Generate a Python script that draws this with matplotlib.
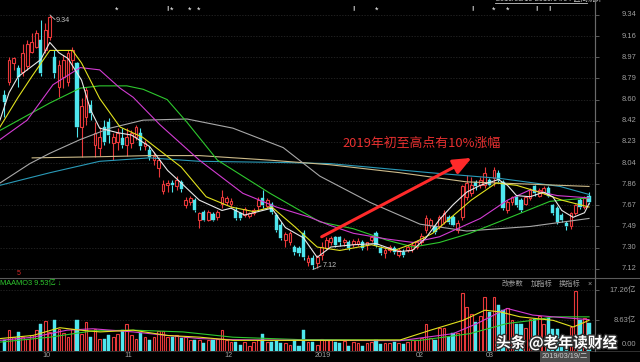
import numpy as np
import matplotlib
matplotlib.use('Agg')
import matplotlib.pyplot as plt
from matplotlib import patheffects as pe
from matplotlib.lines import Line2D
from matplotlib.transforms import blended_transform_factory

plt.rcParams['font.family'] = ['Liberation Sans', 'Noto Sans CJK SC', 'DejaVu Sans']

# ---------------- data ----------------
opens = [8.64, 8.75, 8.92, 8.88, 8.84, 8.89, 9.02, 9.06, 9.12, 9.03,
         9.15, 8.97, 8.71, 8.80, 8.75, 8.95, 8.92, 8.36, 8.45, 8.55,
         8.20, 8.18, 8.36, 8.40, 8.22, 8.23, 8.26, 8.20, 8.22, 8.27,
         8.31, 8.19, 8.16, 8.07, 8.00, 7.80, 7.85, 7.87, 7.84, 7.88,
         7.68, 7.70, 7.72, 7.55, 7.62, 7.55, 7.60, 7.57, 7.69, 7.70,
         7.69, 7.63, 7.61, 7.59, 7.58, 7.61, 7.67, 7.74, 7.67, 7.69,
         7.59, 7.50, 7.37, 7.35, 7.31, 7.30, 7.43, 7.18, 7.21, 7.17,
         7.24, 7.30, 7.35, 7.40, 7.40, 7.35, 7.35, 7.34, 7.34, 7.35,
         7.33, 7.37, 7.43, 7.30, 7.26, 7.28, 7.30, 7.24, 7.27, 7.28,
         7.29, 7.31, 7.35, 7.46, 7.50, 7.49, 7.49, 7.53, 7.57, 7.57,
         7.46, 7.57, 7.75, 7.78, 7.88, 7.85, 7.85, 7.90, 7.91, 7.96,
         7.88, 7.63, 7.70, 7.75, 7.72, 7.69, 7.74, 7.84, 7.76, 7.79,
         7.83, 7.68, 7.65, 7.59, 7.52, 7.49, 7.61, 7.72, 7.66, 7.76]
closes = [8.58, 8.95, 8.96, 8.80, 9.01, 9.09, 9.10, 9.18, 8.83, 9.21,
          9.32, 8.83, 8.90, 8.95, 9.01, 9.03, 8.36, 8.54, 8.68, 8.48,
          8.31, 8.27, 8.23, 8.29, 8.27, 8.31, 8.20, 8.27, 8.31, 8.36,
          8.19, 8.22, 8.10, 8.11, 8.07, 7.86, 7.87, 7.85, 7.90, 7.82,
          7.72, 7.74, 7.63, 7.61, 7.55, 7.62, 7.55, 7.62, 7.75, 7.74,
          7.71, 7.56, 7.56, 7.64, 7.61, 7.63, 7.72, 7.68, 7.72, 7.62,
          7.46, 7.39, 7.42, 7.43, 7.27, 7.26, 7.22, 7.21, 7.15, 7.22,
          7.31, 7.37, 7.39, 7.33, 7.35, 7.37, 7.30, 7.36, 7.36, 7.30,
          7.35, 7.40, 7.33, 7.26, 7.28, 7.31, 7.27, 7.28, 7.24, 7.31,
          7.33, 7.35, 7.41, 7.56, 7.55, 7.44, 7.57, 7.61, 7.53, 7.50,
          7.52, 7.84, 7.87, 7.85, 7.84, 7.90, 7.96, 7.85, 7.98, 7.90,
          7.65, 7.70, 7.75, 7.68, 7.63, 7.75, 7.81, 7.78, 7.81, 7.83,
          7.76, 7.61, 7.53, 7.55, 7.49, 7.61, 7.68, 7.66, 7.74, 7.70]
highs = [8.68, 8.97, 8.97, 8.90, 9.09, 9.12, 9.18, 9.21, 9.30, 9.27,
         9.34, 9.03, 8.95, 8.99, 9.03, 9.06, 8.93, 8.61, 8.71, 8.60,
         8.40, 8.36, 8.42, 8.44, 8.31, 8.35, 8.35, 8.35, 8.33, 8.38,
         8.35, 8.25, 8.19, 8.14, 8.10, 7.90, 7.90, 7.90, 7.93, 7.90,
         7.75, 7.76, 7.74, 7.62, 7.63, 7.63, 7.62, 7.63, 7.81, 7.76,
         7.74, 7.66, 7.62, 7.66, 7.62, 7.65, 7.75, 7.81, 7.74, 7.70,
         7.61, 7.53, 7.44, 7.45, 7.33, 7.32, 7.46, 7.24, 7.24, 7.24,
         7.35, 7.40, 7.41, 7.41, 7.41, 7.39, 7.37, 7.38, 7.39, 7.37,
         7.35, 7.41, 7.45, 7.32, 7.31, 7.33, 7.32, 7.30, 7.29, 7.33,
         7.35, 7.37, 7.43, 7.59, 7.56, 7.50, 7.59, 7.63, 7.59, 7.59,
         7.55, 7.85, 7.94, 7.92, 7.90, 7.92, 8.01, 7.91, 8.01, 7.98,
         7.90, 7.72, 7.76, 7.76, 7.74, 7.76, 7.83, 7.85, 7.83, 7.84,
         7.84, 7.69, 7.67, 7.61, 7.54, 7.62, 7.69, 7.74, 7.76, 7.79]
lows = [8.45, 8.73, 8.86, 8.71, 8.81, 8.86, 9.01, 9.05, 8.81, 9.01,
        9.12, 8.79, 8.62, 8.70, 8.72, 8.86, 8.27, 8.10, 8.38, 8.42,
        8.10, 8.11, 8.20, 8.22, 8.07, 8.16, 8.18, 8.11, 8.18, 8.25,
        8.16, 8.16, 8.07, 8.03, 7.92, 7.77, 7.79, 7.79, 7.81, 7.79,
        7.65, 7.68, 7.62, 7.48, 7.54, 7.54, 7.54, 7.55, 7.65, 7.68,
        7.66, 7.55, 7.55, 7.57, 7.56, 7.59, 7.63, 7.65, 7.65, 7.60,
        7.44, 7.37, 7.31, 7.33, 7.24, 7.23, 7.20, 7.14, 7.12, 7.13,
        7.20, 7.28, 7.33, 7.31, 7.32, 7.32, 7.28, 7.31, 7.32, 7.28,
        7.28, 7.35, 7.31, 7.24, 7.21, 7.27, 7.25, 7.22, 7.22, 7.27,
        7.27, 7.29, 7.33, 7.43, 7.48, 7.42, 7.47, 7.51, 7.51, 7.49,
        7.43, 7.55, 7.72, 7.76, 7.81, 7.83, 7.83, 7.84, 7.84, 7.88,
        7.63, 7.61, 7.68, 7.66, 7.62, 7.68, 7.72, 7.76, 7.75, 7.77,
        7.75, 7.59, 7.51, 7.53, 7.46, 7.47, 7.59, 7.64, 7.64, 7.69]
volumes = [2.9, 5.9, 3.8, 5.3, 3.8, 3.4, 4.3, 5.8, 7.7, 8.3,
           5.3, 8.6, 6.2, 5.0, 3.8, 6.2, 8.8, 4.8, 8.1, 3.8,
           6.2, 3.4, 3.4, 4.3, 3.8, 4.8, 5.8, 7.5, 4.3, 3.4,
           5.0, 3.8, 3.1, 3.8, 5.6, 5.6, 3.8, 3.8, 4.3, 3.6,
           3.8, 2.9, 3.1, 3.1, 2.1, 2.9, 2.9, 3.4, 5.9, 2.9,
           2.4, 2.4, 1.7, 2.4, 1.4, 2.4, 2.9, 4.8, 2.4, 2.4,
           2.7, 2.1, 2.1, 1.7, 2.9, 1.4, 5.8, 2.4, 2.4, 1.7,
           3.4, 2.9, 2.9, 2.4, 2.2, 2.6, 1.4, 2.4, 2.2, 1.4,
           2.0, 2.4, 3.1, 1.9, 2.0, 2.0, 2.4, 2.0, 1.9, 2.4,
           3.1, 3.0, 3.5, 7.5, 3.7, 3.0, 6.3, 6.3, 3.8, 4.9,
           4.9, 16.4, 12.4, 10.4, 8.1, 9.8, 15.2, 11.0, 15.3, 12.9,
           11.5, 12.0, 8.6, 7.7, 7.7, 6.5, 8.9, 8.9, 9.8, 7.5,
           9.4, 6.0, 6.0, 3.8, 3.8, 6.6, 17.1, 8.6, 9.4, 7.9]

# moving-average lines (day index, value)
ma5_day = [-1, 1, 3, 8, 10, 12, 14, 17, 19, 21, 25, 28, 32, 36, 39, 43, 48, 50, 53, 57, 59, 62, 66, 69,
           72, 77, 82, 87, 90, 93, 96, 99, 102, 105, 109, 111, 113, 116, 119, 121, 123, 125.5, 128, 129]
ma5_val = [8.42, 8.66, 8.80, 8.95, 9.10, 9.01, 8.96, 8.77, 8.51, 8.35, 8.31, 8.29, 8.19, 7.98, 7.87, 7.72,
           7.63, 7.65, 7.59, 7.63, 7.65, 7.48, 7.39, 7.22, 7.31, 7.33, 7.34, 7.27, 7.28, 7.39, 7.55, 7.68,
           7.79, 7.85, 7.90, 7.85, 7.76, 7.75, 7.79, 7.75, 7.63, 7.57, 7.61, 7.69]
ma10_day = [-1, 3, 6, 10, 15, 17, 21, 25.5, 30.5, 39, 44.5, 50, 55, 59, 64, 69, 74, 81, 86, 89.5, 94.5,
            98, 103, 108.5, 113, 118, 123, 129]
ma10_val = [8.36, 8.62, 8.80, 9.03, 9.03, 8.92, 8.61, 8.36, 8.27, 8.01, 7.75, 7.66, 7.62, 7.66, 7.49, 7.31,
            7.28, 7.33, 7.28, 7.33, 7.43, 7.55, 7.72, 7.87, 7.85, 7.79, 7.72, 7.66]
ma20_day = [-1, 5, 10.7, 16.7, 21, 25.5, 28.4, 34.3, 43, 52.6, 60, 67.4, 71.8, 77, 84.4, 90.2, 96, 100.5,
            105, 111, 116, 122, 129]
ma20_val = [8.25, 8.42, 8.73, 8.88, 8.86, 8.70, 8.62, 8.38, 8.07, 7.78, 7.66, 7.57, 7.50, 7.43, 7.38, 7.35,
            7.40, 7.48, 7.56, 7.72, 7.81, 7.76, 7.74]
ma30_day = [-1, 10, 16.7, 21, 27, 30.6, 35.9, 40.3, 47, 58.6, 69.6, 77, 84.4, 90.2, 96, 102.7, 111, 120.4, 129]
ma30_val = [8.33, 8.57, 8.70, 8.72, 8.72, 8.69, 8.60, 8.40, 8.07, 7.78, 7.53, 7.47, 7.37, 7.31, 7.35, 7.43,
            7.56, 7.71, 7.74]
ma60_day = [-1, 5.6, 10, 16.7, 23.3, 30.6, 40.3, 50.4, 61.5, 69.6, 80.7, 91.7, 102, 116, 129]
ma60_val = [7.87, 8.04, 8.13, 8.25, 8.35, 8.42, 8.43, 8.35, 8.18, 7.93, 7.70, 7.51, 7.45, 7.49, 7.56]
ma120_day = [6.1, 21, 32, 43, 58.6, 71.8, 87.3, 102, 116, 129]
ma120_val = [8.09, 8.10, 8.11, 8.11, 8.07, 8.03, 7.96, 7.88, 7.86, 7.84]
ma250_day = [-1, 10, 21, 32, 43, 60.8, 71.8, 94, 109.4, 122.6, 129]
ma250_val = [7.85, 7.96, 8.06, 8.09, 8.06, 8.05, 8.04, 7.96, 7.91, 7.84, 7.77]

vma5_day = [-1, 6.3, 12.2, 16.7, 21.1, 28.4, 35.9, 43.1, 50.4, 57.9, 65.2, 69.6, 87.3, 93.9, 101.2, 106,
            109.4, 113.8, 121.1, 125.5, 129]
vma5_val = [3.4, 4.3, 6.5, 5.8, 5.3, 5.8, 4.3, 3.8, 2.9, 2.9, 2.9, 2.9, 3.0, 5.75, 8.6, 11.5, 11.0, 9.6,
            8.6, 6.7, 8.6]
vma10_day = [-1, 6.3, 13.8, 19.5, 28.4, 35.9, 43.1, 50.4, 65.2, 69.6, 87.3, 99, 104.3, 110.9, 116.6, 121.1, 129]
vma10_val = [2.9, 3.8, 5.8, 6.2, 5.3, 4.3, 3.4, 3.1, 2.9, 2.9, 2.8, 4.8, 7.7, 12.0, 10.1, 9.6, 8.8]
vma20_day = [-1, 10, 19.5, 28.4, 39.4, 50.4, 65.2, 69.6, 91.7, 102.7, 110.9, 116.6, 121.1, 129]
vma20_val = [2.4, 3.8, 5.6, 5.8, 5.3, 3.8, 3.1, 3.1, 2.9, 4.8, 7.7, 8.6, 9.6, 9.6]

price_ticks = [9.34, 9.155, 8.97, 8.785, 8.60, 8.415, 8.23, 8.045, 7.86, 7.675, 7.49, 7.305, 7.12]
price_labels = ['9.34', '9.16', '8.97', '8.79', '8.60', '8.42', '8.23', '8.04', '7.86', '7.67',
                '7.49', '7.30', '7.12']
vol_ticks = [17.26, 8.63]
vol_labels = ['17.26亿', '8.63亿']
month_labels = ['10', '11', '12', '2019', '02', '03']
month_pos = [9.3, 27.3, 49.4, 70.3, 91.6, 107.2]

# ---------------- figure ----------------
W, H = 640, 362
BG = 'black'
RED = '#e8383a'
CYAN = '#4ee6ee'
GRAY = '#a0a0a0'

fig = plt.figure(figsize=(W / 100, H / 100), dpi=100, facecolor=BG)


def box(x0, y0, x1, y1):
    return [x0 / W, 1 - y1 / H, (x1 - x0) / W, (y1 - y0) / H]


def ptext(x, y, s, **kw):
    return fig.text(x / W, 1 - y / H, s, **kw)


ax = fig.add_axes(box(0, 0, 595, 277))
axv = fig.add_axes(box(0, 278, 595, 350.5))
for a in (ax, axv):
    a.set_facecolor(BG)
    for s in a.spines.values():
        s.set_visible(False)
    a.spines['right'].set_visible(True)
    a.spines['right'].set_color('#6a6a6a')
    a.spines['right'].set_linewidth(0.8)
    a.set_xticks([])
    a.set_xlim(-0.993, 130.32)
    a.set_axisbelow(True)

ax.set_ylim(7.0478, 9.4712)
axv.set_ylim(0, 20.68)

ax.set_yticks(price_ticks)
ax.grid(axis='y', color='#2c2c2c', lw=0.5, ls=(0, (2, 2)))
ax.tick_params(axis='y', left=False, labelleft=False, right=True, labelright=False,
               direction='out', length=3, color='#6a6a6a', width=0.6)
axv.set_yticks(vol_ticks)
axv.grid(axis='y', color='#2c2c2c', lw=0.5, ls=(0, (2, 2)))
axv.tick_params(axis='y', left=False, labelleft=False, right=True, labelright=False,
                direction='out', length=3, color='#6a6a6a', width=0.6)

o = np.array(opens); c = np.array(closes); hi = np.array(highs); lo = np.array(lows)
vol = np.array(volumes)
idx = np.arange(len(c))
up = c >= o
cols = [RED if u else CYAN for u in up]
top = np.maximum(o, c); bot = np.minimum(o, c)
ax.vlines(idx, top, hi, colors=cols, lw=0.8, zorder=2)
ax.vlines(idx, lo, bot, colors=cols, lw=0.8, zorder=2)
hgt = np.maximum(top - bot, 0.006)
ax.bar(idx[up], hgt[up], bottom=bot[up], width=0.6, facecolor=BG, edgecolor=RED,
       linewidth=0.8, zorder=3)
ax.bar(idx[~up], hgt[~up], bottom=bot[~up], width=0.7, facecolor=CYAN, edgecolor=CYAN,
       linewidth=0.3, zorder=3)

ma_sets = [(ma250_day, ma250_val, '#2a9ab8'), (ma120_day, ma120_val, '#cdbb8a'),
           (ma60_day, ma60_val, '#a8a8a8'), (ma30_day, ma30_val, '#2ec82e'),
           (ma20_day, ma20_val, '#d23cd2'), (ma10_day, ma10_val, '#e2e21e'),
           (ma5_day, ma5_val, '#e8e8e8')]
for d, v, col in ma_sets:
    ax.plot(d, v, color=col, lw=0.8, zorder=4, solid_joinstyle='round')

# volume
axv.bar(idx[up], vol[up], width=0.6, facecolor=BG, edgecolor=RED, linewidth=0.8, zorder=2)
axv.bar(idx[~up], vol[~up], width=0.7, facecolor=CYAN, edgecolor=CYAN, linewidth=0.3, zorder=2)
for d, v, col in [(vma20_day, vma20_val, '#2ec82e'), (vma10_day, vma10_val, '#d23cd2'),
                  (vma5_day, vma5_val, '#e2e21e')]:
    axv.plot(d, v, color=col, lw=0.8, zorder=3)

# right axis labels
trp = blended_transform_factory(fig.transFigure, ax.transData)
for t, lab in zip(price_ticks, price_labels):
    ax.text(636 / W, t, lab, transform=trp, ha='right', va='center', fontsize=5.4, color=GRAY)
trv = blended_transform_factory(fig.transFigure, axv.transData)
for t, lab in zip(vol_ticks, vol_labels):
    axv.text(636 / W, t, lab, transform=trv, ha='right', va='center', fontsize=5.4, color=GRAY)
ptext(636, 344, '0.00', ha='right', va='center', fontsize=5.4, color=GRAY)

# dates
trd = blended_transform_factory(axv.transData, fig.transFigure)
for p, lab in zip(month_pos, month_labels):
    axv.text(p, 1 - 355.5 / H, lab, transform=trd, ha='center', va='center', fontsize=5.2, color=GRAY)

# frame lines
fig.add_artist(Line2D([0, 1], [1 - 277.5 / H] * 2, color='#5a5a5a', lw=0.8))
fig.add_artist(Line2D([0, 1], [1 - 351 / H] * 2, color='#3a3a3a', lw=0.6))
fig.add_artist(Line2D([595 / W] * 2, [1 - 351 / H, 1], color='#6a6a6a', lw=0.8))

# annotation arrow and text
ax.annotate('', xy=(103.1, 8.09), xytext=(70.0, 7.40),
            arrowprops=dict(arrowstyle='-|>,head_length=1.0,head_width=0.42', color='#ff2a2a',
                            lw=2.2, mutation_scale=11, shrinkA=0, shrinkB=0), zorder=6)
ptext(342, 143.5, '2019年初至高点有10%涨幅', ha='left', va='center', fontsize=9.3,
      color='#e83030', family=['Noto Sans CJK SC', 'DejaVu Sans'])

# high / low marks
ptext(56, 20.5, '9.34', ha='left', va='center', fontsize=5.2, color='#c0c0c0')
fig.add_artist(Line2D([50 / W, 55 / W], [1 - 15 / H, 1 - 19.5 / H], color='#c0c0c0', lw=0.6))
ptext(323, 265.5, '7.12', ha='left', va='center', fontsize=5.2, color='#c0c0c0')
fig.add_artist(Line2D([313 / W, 321 / W], [1 - 269.5 / H, 1 - 266 / H], color='#c0c0c0', lw=0.6))

# top markers
for x in [117, 172, 190, 199, 377, 494, 508]:
    ptext(x, 10, '*', ha='center', va='center', fontsize=6.5, color='white')
for x in [167, 353, 472, 536, 549]:
    ptext(x, 9.5, '!', ha='center', va='center', fontsize=5, color='white', fontweight='bold')
ptext(496, -0.5, '2019/03/19-2019/04/04 区间统计', ha='left', va='center', fontsize=5.2,
      color='#c8c8c8')
fig.add_artist(Line2D([495 / W, 587 / W], [1 - 2.8 / H] * 2, color='#c8c8c8', lw=0.6))

# small red marker and volume indicator title
ptext(18.5, 273.5, '5', ha='center', va='center', fontsize=5, color='#d82828')
ptext(0, 283.5, 'MAAMO3 9.53亿 ↓', ha='left', va='center', fontsize=5.3, color='#2ec82e')
for x, s in [(502, '改参数'), (531, '加指标'), (559, '换指标'), (587, '×')]:
    ptext(x, 284, s, ha='left', va='center', fontsize=5.2, color=GRAY)

# date box
ptext(565, 356.5, '2019/03/19/二', ha='center', va='center', fontsize=5.3, color='#d0d0d0',
      bbox=dict(facecolor='#4a4a4a', edgecolor='none', pad=1.2))

# watermark
ptext(496, 343, '头条 @老年读财经', ha='left', va='center', fontsize=10.6, color='white',
      fontweight='bold', family=['Noto Sans CJK SC', 'DejaVu Sans'],
      path_effects=[pe.withStroke(linewidth=2, foreground='#303030')], zorder=10)

fig.savefig('out.png', dpi=100, facecolor=BG)
